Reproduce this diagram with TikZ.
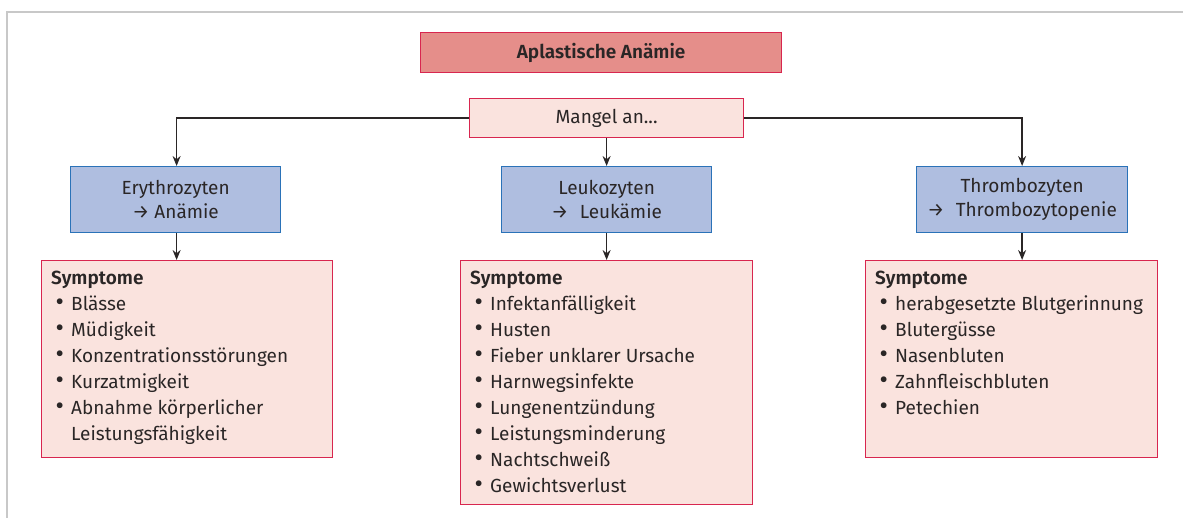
\documentclass[tikz,border=0pt]{standalone}
\usepackage{fontspec}
\setmainfont{Fira Sans}[BoldFont={Fira Sans SemiBold}]
\usetikzlibrary{arrows.meta}
\definecolor{frameg}{HTML}{C8C8C8}
\definecolor{redfill}{HTML}{E58E8A}
\definecolor{redline}{HTML}{D8264F}
\definecolor{pinkfill}{HTML}{FAE3DE}
\definecolor{bluefill}{HTML}{AFBEE0}
\definecolor{blueline}{HTML}{2A72B8}
\definecolor{ink}{HTML}{2A2626}
\tikzset{
  box/.style={rectangle, draw, line width=1.2pt, inner sep=0pt, anchor=north west},
  titlebox/.style={box, fill=redfill, draw=redline},
  pinkbox/.style={box, fill=pinkfill, draw=redline},
  bluebox/.style={box, fill=bluefill, draw=blueline},
  txt/.style={text=ink, font=\fontsize{19}{24}\selectfont, align=center},
  listtxt/.style={text=ink, font=\fontsize{19}{26}\selectfont, align=left, inner sep=0pt, anchor=north west},
  conn/.style={draw=ink, line width=1.3pt, -{Stealth[length=10pt,width=8pt]}}
}
\newcommand{\bul}{\makebox[20pt][l]{\hspace{4.5pt}\raisebox{-0.5pt}{\scalebox{1.35}{•}}}}
\newcommand{\ind}{\hspace*{20pt}}
\begin{document}
\begin{tikzpicture}[x=1pt,y=-1pt]
\useasboundingbox (0,0) rectangle (1183,518);
% frame
\draw[frameg, line width=2pt] (7,518) -- (7,12) -- (1183,12);

% top boxes
\node[titlebox, minimum width=361pt, minimum height=40pt] (top) at (420,32) {};
\node[txt, font=\fontsize{19}{24}\selectfont\bfseries] (toptext) at (top.center) {Aplastische Anämie};
\node[pinkbox, minimum width=274pt, minimum height=39pt] (mangel) at (469,98) {};
\node[txt] (mangeltext) at (mangel.center) {Mangel an...};

% blue boxes
\node[bluebox, minimum width=210pt, minimum height=66pt] (ery) at (70,166) {};
\node[txt] (erytext) at (ery.center) {Erythrozyten\\→ Anämie};
\node[bluebox, minimum width=210pt, minimum height=66pt] (leu) at (501,166) {};
\node[txt] (leutext) at (leu.center) {Leukozyten\\→\hspace{0.6em}Leukämie};
\node[bluebox, minimum width=211pt, minimum height=66pt] (thr) at (916,166) {};
\node[txt] (thrtext) at (thr.center) {Thrombozyten\\→\hspace{0.6em}Thrombozytopenie};

% symptom boxes
\node[pinkbox, minimum width=291pt, minimum height=197pt] (s1) at (41,260) {};
\node[pinkbox, minimum width=292pt, minimum height=244pt] (s2) at (460,260) {};
\node[pinkbox, minimum width=292pt, minimum height=197pt] (s3) at (865,260) {};

\node[listtxt] (s1text) at ([xshift=10pt,yshift=-5.8pt]s1.north west)
 {\strut\textbf{Symptome}\\\bul Blässe\\\bul Müdigkeit\\\bul Konzentrationsstörungen\\\bul Kurzatmigkeit\\\bul Abnahme körperlicher\\\ind Leistungsfähigkeit};
\node[listtxt] (s2text) at ([xshift=10pt,yshift=-5.8pt]s2.north west)
 {\strut\textbf{Symptome}\\\bul Infektanfälligkeit\\\bul Husten\\\bul Fieber unklarer Ursache\\\bul Harnwegsinfekte\\\bul Lungenentzündung\\\bul Leistungsminderung\\\bul Nachtschweiß\\\bul Gewichtsverlust};
\node[listtxt] (s3text) at ([xshift=10pt,yshift=-5.8pt]s3.north west)
 {\strut\textbf{Symptome}\\\bul herabgesetzte Blutgerinnung\\\bul Blutergüsse\\\bul Nasenbluten\\\bul Zahnfleischbluten\\\bul Petechien};

% connectors
\draw[conn] (mangel.west) -| ([xshift=1pt]ery.north);
\draw[conn] (mangel.south) -- (leu.north);
\draw[conn] (mangel.east) -| (thr.north);
\draw[conn] ([xshift=1pt]ery.south) -- ([xshift=1pt]ery.south |- s1.north);
\draw[conn] (leu.south) -- (leu.south |- s2.north);
\draw[conn] (thr.south) -- (thr.south |- s3.north);
\end{tikzpicture}
\end{document}
